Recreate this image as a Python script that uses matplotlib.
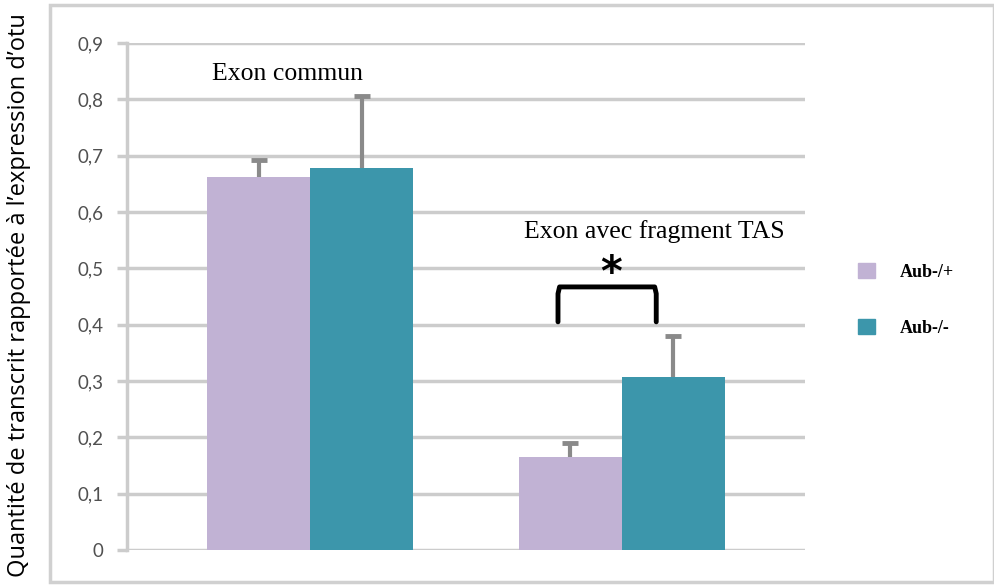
import matplotlib.pyplot as plt
import matplotlib.patches as mpatches
import numpy as np

# Données
groupes = ["Exon commun", "Exon avec fragment TAS"]
aub_het = [0.662, 0.165]      # Aub-/+
aub_hom = [0.678, 0.307]      # Aub-/-
err_het = [0.030, 0.025]
err_hom = [0.128, 0.073]
yticks = [0, 0.1, 0.2, 0.3, 0.4, 0.5, 0.6, 0.7, 0.8, 0.9]
yticklabels = ["0", "0,1", "0,2", "0,3", "0,4", "0,5", "0,6", "0,7", "0,8", "0,9"]
legende = ["Aub-/+", "Aub-/-"]

violet = "#c1b2d4"
bleu = "#3c96ab"
gris = "#cccccc"
gris_err = "#8a8a8a"

fig = plt.figure(figsize=(9.95, 5.85), dpi=100)
ax = fig.add_axes([127/995, 1 - 550/585, (805 - 127)/995, (550 - 43)/585])

# cadre extérieur
fig.patches.append(mpatches.Rectangle((50/995, 3/585), 944/995, 577/585, transform=fig.transFigure,
                                      fill=False, edgecolor="#d0d0d0", linewidth=2.5))

x = np.arange(len(groupes))
w = 0.33
for pos, val, err, col in [(x - w/2, aub_het, err_het, violet), (x + w/2, aub_hom, err_hom, bleu)]:
    ax.bar(pos, val, w, color=col, zorder=3)
    haut = np.array(val) + np.array(err)
    # barre d'erreur vers le haut uniquement
    ax.vlines(pos, val, haut, color=gris_err, linewidth=3, zorder=4)
    ax.plot(pos, haut, linestyle="none", marker="_", markersize=12, mew=3.5, color=gris_err, zorder=4)

ax.set_xlim(-0.587, 1.587)
ax.set_ylim(0, 0.9)
ax.set_yticks(yticks)
ax.set_yticklabels(yticklabels, fontsize=13.5, color="#505050", family="Lato")
ax.set_xticks([])
ax.yaxis.grid(True, color=gris, linewidth=2.5, zorder=0)
ax.tick_params(axis="y", length=7, width=2.5, color=gris, pad=10)
for s in ["top", "right", "bottom"]:
    ax.spines[s].set_visible(False)
ax.spines["left"].set_color(gris)
ax.spines["left"].set_linewidth(2.5)
ax.set_axisbelow(True)

fig.text(19/995, 1 - 295/585, "Quantité de transcrit rapportée à l\u2019expression d\u2019otu",
         rotation=90, ha="center", va="center", fontsize=17, family="Open Sans")

# textes des groupes
ax.text(-0.315, 0.845, groupes[0], family="Liberation Serif", fontsize=18.5, va="center")
ax.text(0.685, 0.565, groupes[1], family="Liberation Serif", fontsize=18.5, va="center")

# crochet de significativité
bx = [0.795, 0.795, 0.80, 1.105, 1.11, 1.11]
by = [0.405, 0.455, 0.467, 0.467, 0.455, 0.405]
ax.plot(bx, by, color="black", linewidth=3.5, solid_capstyle="round", solid_joinstyle="round", zorder=5)
ax.text(0.965, 0.452, "*", fontsize=30, ha="center", va="bottom", fontweight="bold")

handles = [mpatches.Patch(color=violet), mpatches.Patch(color=bleu)]
fig.legend(handles, legende, loc="center left", bbox_to_anchor=(842/995, 1 - 300/585),
           frameon=False, handlelength=0.9, handleheight=0.9, handletextpad=1.4, labelspacing=2.1,
           prop=dict(family="Liberation Serif", size=13, weight="bold"))

fig.savefig("out.png", dpi=100)
